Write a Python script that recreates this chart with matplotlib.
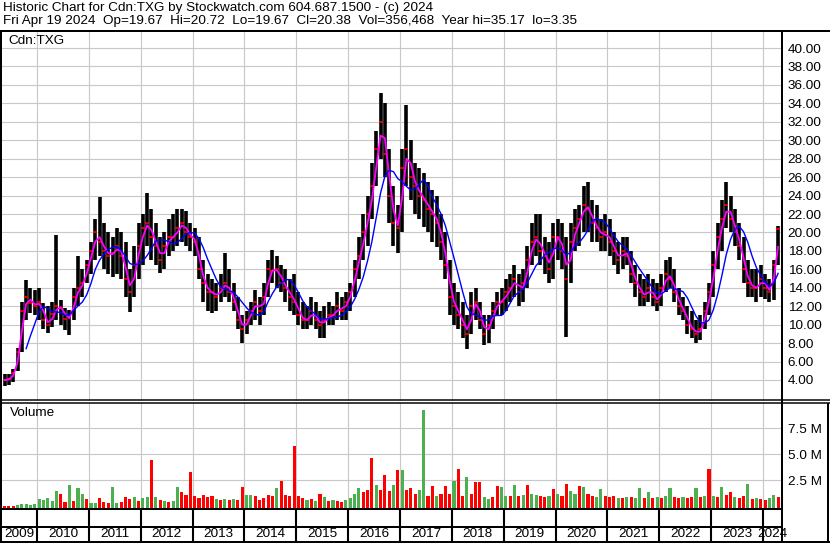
import numpy as np
import pandas as pd
import matplotlib
matplotlib.use('Agg')
import matplotlib.pyplot as plt
from matplotlib.lines import Line2D

plt.rcParams['font.family'] = ['Liberation Sans', 'DejaVu Sans']

# monthly data, May 2009 .. Apr 2024
high = [4.7, 4.6, 5.2, 7.5, 12.5, 14.8, 14.0, 13.8,
        14.0, 12.3, 12.0, 12.5, 19.7, 12.7, 11.8, 11.6, 14.0, 17.5, 16.0, 17.0,
        19.0, 21.5, 23.8, 21.0, 20.0, 19.5, 20.5, 20.0, 19.0, 16.0, 18.5, 21.0,
        22.0, 24.3, 22.5, 21.0, 19.5, 20.0, 21.5, 22.0, 22.5, 22.5, 22.3, 21.0,
        20.5, 19.5, 17.0, 15.5, 15.0, 14.5, 15.5, 17.8, 16.0, 14.5, 13.0, 11.0,
        11.5, 12.5, 13.8, 13.0, 14.5, 17.0, 18.1, 17.5, 16.5, 16.0, 15.0, 15.5,
        13.5, 12.5, 12.0, 13.0, 12.5, 11.5, 12.0, 12.5, 12.0, 13.5, 13.0, 13.5,
        14.5, 17.0, 19.5, 22.0, 24.0, 27.5, 31.0, 35.17, 34.0, 29.0, 25.0, 23.0,
        29.0, 33.8, 30.0, 27.5, 27.0, 26.5, 25.5, 24.6, 24.0, 22.0, 20.0, 17.0,
        14.5, 13.5, 12.5, 11.0, 13.5, 14.0, 12.5, 11.0, 11.0, 12.5, 13.5, 14.0,
        15.0, 15.5, 16.5, 15.5, 16.0, 18.5, 21.0, 22.0, 22.0, 19.5, 19.0, 21.0,
        21.5, 21.0, 19.5, 21.0, 22.5, 23.0, 25.0, 25.5, 23.5, 23.0, 21.5, 22.0,
        21.5, 20.0, 19.0, 19.5, 19.5, 18.0, 16.5, 15.5, 15.0, 15.5, 15.0, 14.5,
        15.5, 17.0, 17.3, 16.0, 14.0, 13.0, 12.0, 11.5, 10.5, 11.0, 12.5, 14.5,
        18.0, 21.0, 23.5, 25.5, 24.0, 22.5, 21.0, 19.5, 17.0, 16.0, 16.0, 16.5,
        15.5, 15.0, 17.0, 20.72]
low = [3.35, 3.5, 3.8, 5.0, 7.0, 10.5, 11.3, 11.0,
       10.5, 9.5, 9.1, 9.8, 10.5, 10.0, 9.4, 8.9, 10.5, 12.0, 13.0, 14.5,
       15.5, 17.0, 17.5, 16.0, 15.5, 15.2, 15.5, 15.0, 13.0, 11.4, 13.0, 15.0,
       16.5, 18.5, 17.0, 16.5, 15.6, 16.0, 17.5, 18.0, 18.5, 19.0, 18.5, 18.0,
       17.5, 15.0, 12.5, 11.5, 11.3, 11.5, 12.5, 13.0, 12.5, 11.5, 9.5, 8.0,
       9.0, 10.0, 10.5, 10.0, 11.0, 13.0, 14.5, 14.0, 13.5, 12.5, 11.5, 11.0,
       10.0, 9.5, 9.5, 10.0, 9.5, 8.5, 8.5, 10.0, 10.0, 10.5, 10.5, 10.5,
       11.5, 13.0, 15.0, 17.0, 18.5, 21.5, 25.0, 28.0, 26.0, 21.0, 18.5, 17.8,
       20.0, 25.0, 23.5, 22.0, 21.5, 20.6, 20.0, 19.0, 18.4, 17.0, 15.0, 11.0,
       10.0, 9.5, 8.5, 7.4, 9.0, 10.5, 9.5, 7.8, 8.0, 9.5, 11.0, 11.0,
       11.5, 12.5, 13.0, 12.0, 12.5, 14.0, 16.5, 17.5, 16.5, 15.5, 14.5, 15.0,
       17.0, 16.0, 8.7, 14.5, 18.0, 18.5, 20.0, 20.0, 19.0, 19.0, 18.0, 18.0,
       17.5, 16.5, 15.5, 16.0, 16.5, 14.5, 13.0, 12.0, 12.0, 12.5, 12.0, 11.5,
       12.0, 13.5, 14.0, 12.5, 11.0, 10.5, 9.0, 8.5, 8.0, 8.3, 9.5, 11.0,
       13.0, 16.0, 18.0, 20.5, 20.0, 18.5, 17.0, 14.5, 13.0, 13.0, 12.5, 13.0,
       12.8, 12.5, 12.7, 16.5]
close = [4.0, 4.1, 4.8, 7.0, 11.5, 13.0, 12.4, 12.0,
         12.5, 10.5, 10.0, 11.2, 12.0, 11.8, 10.6, 10.8, 13.0, 14.0, 14.5, 16.5,
         18.0, 20.0, 19.0, 18.0, 17.5, 17.8, 18.5, 17.5, 15.0, 13.5, 16.5, 18.5,
         20.5, 21.0, 19.5, 18.5, 17.0, 18.5, 19.5, 19.5, 20.5, 21.0, 20.0, 19.5,
         19.0, 16.0, 14.5, 13.5, 13.5, 13.0, 14.0, 14.5, 13.5, 12.5, 10.5, 9.5,
         10.5, 11.5, 12.5, 11.5, 13.0, 16.0, 15.8, 16.0, 14.5, 14.0, 13.0, 12.5,
         11.0, 10.5, 10.5, 11.5, 10.5, 10.0, 10.5, 11.0, 11.0, 12.0, 11.5, 12.5,
         13.5, 16.0, 17.5, 20.0, 22.0, 25.0, 29.0, 32.0, 28.5, 24.0, 21.0, 20.5,
         27.0, 29.0, 26.0, 25.0, 24.0, 23.5, 22.5, 22.0, 21.0, 19.0, 16.5, 13.0,
         12.0, 11.0, 10.0, 9.0, 12.0, 12.5, 10.5, 9.0, 10.0, 11.5, 12.5, 12.5,
         13.5, 14.0, 15.0, 13.5, 14.5, 17.0, 19.0, 19.5, 18.0, 17.5, 16.0, 19.5,
         19.5, 18.0, 15.0, 19.0, 20.5, 21.5, 23.0, 22.5, 21.0, 20.5, 19.5, 20.0,
         19.0, 18.0, 17.0, 18.0, 17.5, 15.5, 14.5, 13.5, 13.0, 14.0, 13.0, 12.5,
         14.0, 15.5, 15.0, 13.5, 12.0, 11.5, 10.0, 9.5, 9.0, 9.5, 11.5, 13.5,
         16.5, 19.5, 21.5, 23.0, 21.5, 20.0, 18.5, 16.0, 14.5, 14.0, 14.0, 15.0,
         14.0, 13.5, 16.5, 20.38]
# volume in millions, and bar direction (u = green, d = red)
volume = [0.02, 0.02, 0.03, 0.05, 0.15, 0.2, 0.08, 0.15,
          0.7, 0.6, 0.8, 0.5, 1.4, 1.2, 0.4, 2.0, 0.5, 1.7, 1.2, 0.7,
          0.3, 0.3, 0.8, 0.4, 0.3, 1.8, 0.3, 0.4, 0.9, 0.7, 0.9, 0.5,
          0.8, 0.9, 4.4, 0.9, 0.6, 0.5, 0.4, 0.5, 1.8, 1.3, 1.1, 3.3,
          1.0, 0.8, 1.1, 0.9, 1.0, 0.7, 0.6, 0.7, 0.6, 0.7, 0.6, 1.8,
          1.1, 1.1, 1.0, 0.6, 0.8, 1.1, 1.0, 1.7, 2.4, 1.1, 1.0, 5.8,
          1.0, 0.8, 0.6, 0.7, 0.5, 1.2, 0.9, 0.5, 0.6, 0.5, 0.4, 0.6,
          0.8, 1.2, 1.7, 1.3, 1.5, 4.6, 2.0, 1.5, 3.0, 1.4, 2.0, 3.5,
          3.5, 1.5, 1.7, 1.2, 1.5, 9.3, 1.0, 1.9, 1.0, 1.2, 1.9, 1.2,
          2.4, 3.6, 1.0, 2.8, 1.2, 2.3, 2.3, 0.9, 0.7, 0.9, 1.9, 1.8,
          1.0, 1.0, 2.0, 1.0, 1.1, 2.0, 1.2, 1.1, 1.0, 0.9, 1.0, 1.6,
          1.2, 1.0, 2.1, 1.4, 1.2, 1.9, 1.8, 1.2, 1.0, 0.9, 1.6, 1.0,
          0.9, 1.0, 0.8, 0.8, 0.9, 0.9, 0.8, 1.7, 0.8, 1.3, 0.8, 0.9,
          0.8, 1.0, 1.7, 0.9, 0.8, 0.9, 0.8, 0.9, 1.7, 0.9, 1.0, 3.6,
          1.0, 0.9, 1.8, 1.1, 1.3, 0.9, 0.8, 1.0, 2.1, 0.7, 0.8, 0.7,
          0.6, 0.8, 1.1, 0.9]
direction = ("ddduuuuu"
             "uuuuudduduud" "uuddduudddud" "uudududuuddd" "dddddudududd"
             "uudddddudddd" "ddududududdu" "uuudddudddud" "uddduudduddd"
             "udduddduuddu" "udududuuddud" "udduududduud" "ddududuududu"
             "duudduddudud" "ududduddudud"
             "duud")
years = list(range(2009, 2025))

months = pd.date_range('2009-05-01', '2024-04-01', freq='MS')
df = pd.DataFrame({'h': high, 'l': low, 'c': close, 'v': volume,
                   'up': [d == 'u' for d in direction]})
df['t'] = months.year + (months.month - 0.5) / 12
df['ma_short'] = df['c'].rolling(2, min_periods=1).mean()
df['ma_long'] = df['c'].rolling(6).mean()

W, H = 830, 543
fig = plt.figure(figsize=(W / 100, H / 100), dpi=100)


def px_axes(x0, y0, x1, y1):
    return fig.add_axes([x0 / W, 1 - y1 / H, (x1 - x0) / W, (y1 - y0) / H])


def hline(y, x0, x1, lw=2):
    fig.add_artist(Line2D([x0 / W, x1 / W], [1 - y / H, 1 - y / H], color='black',
                          lw=lw * 0.72, transform=fig.transFigure, solid_capstyle='butt'))


def vline(x, y0, y1, lw=2):
    fig.add_artist(Line2D([x / W, x / W], [1 - y0 / H, 1 - y1 / H], color='black',
                          lw=lw * 0.72, transform=fig.transFigure, solid_capstyle='butt'))


xmin, xmax = 2009.326, 2024.367
grid_c = '#c8c8c8'
fs = 9.7

# price panel
ax = px_axes(2, 31, 782, 401)
ax.vlines(df['t'], df['l'], df['h'], color='black', lw=2.6)
ax.plot(df['t'], df['c'], ls='none', marker='_', ms=2.5, mew=1.2, color='red')
ax.plot(df['t'], df['ma_short'], color='#ff00ff', lw=1.3)
ax.plot(df['t'], df['ma_long'], color='#0000ff', lw=1.0)
ax.set_xlim(xmin, xmax)
ax.set_ylim(1.72, 41.85)
ax.set_yticks(np.arange(4, 41, 2))
ax.set_yticklabels(['%.2f' % v for v in np.arange(4, 41, 2)])
ax.yaxis.tick_right()
ax.set_xticks(years[1:])
ax.set_xticklabels([])
ax.tick_params(length=0, labelsize=fs, pad=4)
ax.grid(True, color=grid_c, lw=0.8)
ax.set_axisbelow(True)
for s in ax.spines.values():
    s.set_visible(False)
ax.text(6 / 780, 1 - 10 / 370, 'Cdn:TXG', transform=ax.transAxes, fontsize=fs,
        va='center', ha='left')

# volume panel
axv = px_axes(2, 402.5, 782, 508.5)
pad = 0.25
axv.bar(df['t'], df['v'] + pad, bottom=-pad, width=0.06,
        color=np.where(df['up'], '#4caf50', '#ff0000'))
axv.set_xlim(xmin, xmax)
axv.set_ylim(-pad, 10.0)
axv.set_yticks([2.5, 5.0, 7.5])
axv.set_yticklabels(['2.5 M', '5.0 M', '7.5 M'])
axv.yaxis.tick_right()
axv.set_xticks(years[1:])
axv.set_xticklabels([])
axv.tick_params(length=0, labelsize=fs, pad=4)
axv.grid(True, color=grid_c, lw=0.8)
axv.set_axisbelow(True)
for s in axv.spines.values():
    s.set_visible(False)
axv.text(8 / 780, 1 - 11 / 106, 'Volume', transform=axv.transAxes, fontsize=fs,
         va='center', ha='left')

# year band
axy = px_axes(2, 509, 782, 542)
axy.set_xlim(xmin, xmax)
axy.set_ylim(0, 1)
axy.axis('off')
for y in years:
    a = max(y, xmin)
    b = min(y + 1, xmax)
    axy.text((a + b) / 2, 0.23, str(y), ha='center', va='center', fontsize=fs)
    if y > 2009:
        axy.axvline(y, color='black', lw=1.5)

# header
fig.text(3 / W, 1 - 8 / H, 'Historic Chart for Cdn:TXG by Stockwatch.com 604.687.1500 - (c) 2024',
         fontsize=fs, va='center', ha='left')
fig.text(3 / W, 1 - 21 / H,
         'Fri Apr 19 2024  Op=19.67  Hi=20.72  Lo=19.67  Cl=20.38  Vol=356,468  Year hi=35.17  lo=3.35',
         fontsize=fs, va='center', ha='left')

# frame lines
hline(31, 0, W)
hline(400, 0, W, 1.5)
hline(403, 0, W, 1.5)
hline(509, 0, 782)
hline(527, 0, 782)
hline(541.5, 0, W)
vline(1, 31, 543)
vline(782, 31, 543)
vline(828, 403, 543)

fig.savefig('out.png', dpi=100)
